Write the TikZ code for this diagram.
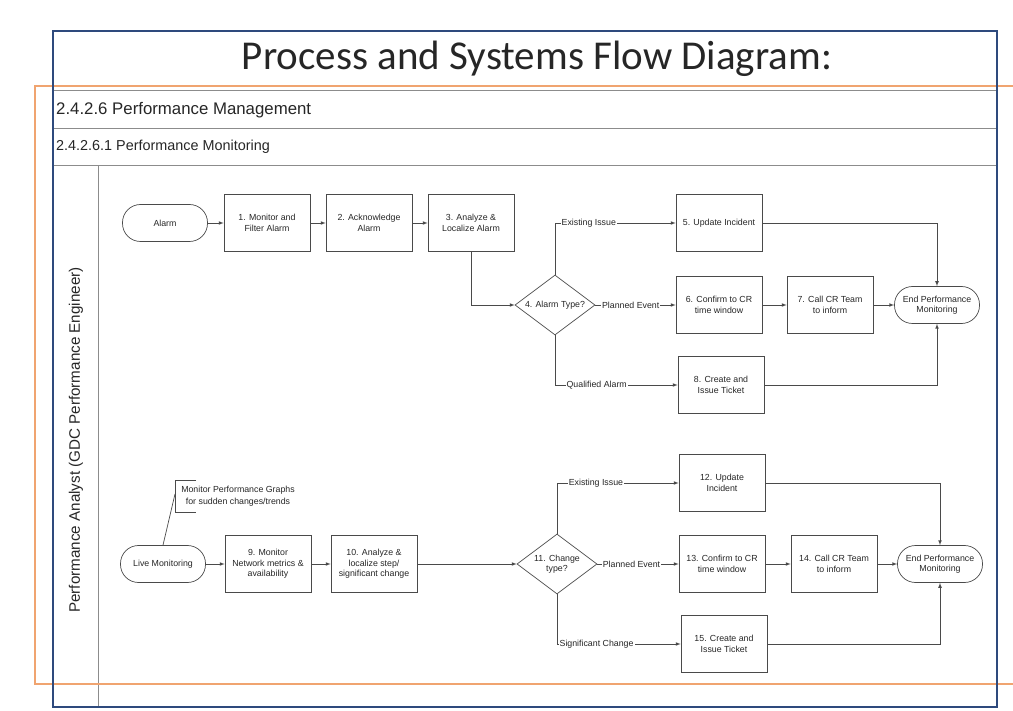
\documentclass[tikz,border=0pt]{standalone}
\usepackage{fontspec}
\setmainfont{Liberation Sans}
\newfontfamily\titlefont{Carlito}
\usetikzlibrary{shapes.geometric,positioning}

\definecolor{framblue}{HTML}{2E4A7D}
\definecolor{framorange}{HTML}{F0A470}
\definecolor{lanegray}{HTML}{8C8C8C}
\definecolor{flowgray}{HTML}{4A4A4A}

\begin{document}
\begin{tikzpicture}[x=1pt, y=-1pt, >=latex, node distance=102pt,
    every node/.style={text=black!85},
    task/.style={draw=flowgray, line width=0.7pt, minimum width=86pt, minimum height=57pt,
        align=center, font=\fontsize{8.8}{10.5}\selectfont, inner sep=1pt},
    term/.style={draw=flowgray, line width=0.7pt, rounded corners=18pt, minimum width=85pt,
        minimum height=37pt, align=center, font=\fontsize{8.8}{10.5}\selectfont, inner sep=1pt},
    decision/.style={draw=flowgray, line width=0.7pt, diamond, aspect=1.35, minimum width=80pt,
        minimum height=60pt, align=center, font=\fontsize{8.8}{10.5}\selectfont, inner sep=-2pt},
    flow/.style={->, draw=flowgray, line width=0.7pt},
    lbl/.style={fill=white, inner sep=1pt, font=\fontsize{8.8}{10.5}\selectfont}]

        \useasboundingbox (0,0) rectangle (1013,711);

        \node[font=\titlefont\fontsize{41}{46}\selectfont, text=black!85] (title) at (537,59) {Process and Systems Flow Diagram:};

        \draw[lanegray, line width=1pt] (53,91) -- (997,91);
        \draw[lanegray, line width=1pt] (53,129) -- (997,129);
        \draw[lanegray, line width=1pt] (53,166) -- (997,166);
        \draw[lanegray, line width=1pt] (98,166) -- (98,707);
        \draw[framorange, line width=1.6pt] (1013,86) -- (35,86) -- (35,684) -- (1013,684);
        \draw[framblue, line width=2.8pt] (53,31) rectangle (997,707);

        \node[anchor=west, font=\fontsize{16.8}{19}\selectfont, inner sep=0pt] (mgmt) at (56,110) {2.4.2.6 Performance Management};
        \node[anchor=west, font=\fontsize{14.4}{16}\selectfont, inner sep=0pt] (monit) at (56,147) {2.4.2.6.1 Performance Monitoring};
        \node[rotate=90, font=\fontsize{15.2}{17}\selectfont] (role) at (76,440) {Performance Analyst (GDC Performance Engineer)};

        \node[term] (alarm) at (165,223) {Alarm};
        \node[task] (filter) [right of=alarm] {1. Monitor and\\Filter Alarm};
        \node[task] (ack) [right of=filter] {2. Acknowledge\\Alarm};
        \node[task] (localize) [right of=ack] {3. Analyze \&\\Localize Alarm};
        \node[decision] (alarmtype) at (555,305) {4. Alarm Type?};
        \node[task] (update) at (719,223) {5. Update Incident};
        \node[task] (confirm) at (719,305) {6. Confirm to CR\\time window};
        \node[task] (callcr) at (830,305) {7. Call CR Team\\to inform};
        \node[term] (endtop) at (937,305) {End Performance\\Monitoring};
        \node[task] (ticket) at (721,385) {8. Create and\\Issue Ticket};

        \draw[flow] (alarm) -- (filter);
        \draw[flow] (filter) -- (ack);
        \draw[flow] (ack) -- (localize);
        \draw[flow] (localize.south) |- (alarmtype.west);
        \draw[flow] (alarmtype.north) |- node[lbl, pos=0.64] {Existing Issue} (update.west);
        \draw[flow] (alarmtype.east) -- node[lbl, pos=0.44] {Planned Event} (confirm.west);
        \draw[flow] (alarmtype.south) |- node[lbl, pos=0.67] {Qualified Alarm} (ticket.west);
        \draw[flow] (confirm) -- (callcr);
        \draw[flow] (callcr) -- (endtop);
        \draw[flow] (update.east) -| (endtop.north);
        \draw[flow] (ticket.east) -| (endtop.south);

        \node[term] (live) at (163,564) {Live Monitoring};
        \node[task] (netmetrics) [right of=live, node distance=105pt] {9. Monitor\\Network metrics \&\\availability};
        \node[task] (stepchange) [right of=netmetrics, node distance=106pt] {10. Analyze \&\\localize step/\\significant change};
        \node[decision] (changetype) at (557,564) {11. Change\\type?};
        \node[task] (update2) at (722,483) {12. Update\\Incident};
        \node[task] (confirm2) at (722,564) {13. Confirm to CR\\time window};
        \node[task] (callcr2) at (834,564) {14. Call CR Team\\to inform};
        \node[term] (endbot) at (940,564) {End Performance\\Monitoring};
        \node[task] (ticket2) at (724,644) {15. Create and\\Issue Ticket};

        \node[align=center, font=\fontsize{8.8}{12}\selectfont, inner sep=1pt] (graphs) at (238,496) {Monitor Performance Graphs\\for sudden changes/trends};
        \draw[flowgray, line width=0.7pt] (196,480) -| (175,512) -- (196,512);
        \draw[flowgray, line width=0.7pt] (175,494) -- (live.north);

        \draw[flow] (live) -- (netmetrics);
        \draw[flow] (netmetrics) -- (stepchange);
        \draw[flow] (stepchange) -- (changetype);
        \draw[flow] (changetype.north) |- node[lbl, pos=0.66] {Existing Issue} (update2.west);
        \draw[flow] (changetype.east) -- node[lbl, pos=0.42] {Planned Event} (confirm2.west);
        \draw[flow] (changetype.south) |- node[lbl, pos=0.66] {Significant Change} (ticket2.west);
        \draw[flow] (confirm2) -- (callcr2);
        \draw[flow] (callcr2) -- (endbot);
        \draw[flow] (update2.east) -| (endbot.north);
        \draw[flow] (ticket2.east) -| (endbot.south);

\end{tikzpicture}
\end{document}
